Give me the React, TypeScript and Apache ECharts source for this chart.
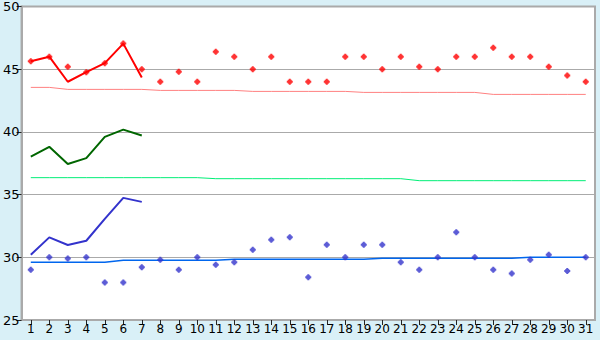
import React, { useEffect, useRef } from "react";
import * as echarts from "echarts";

const days = Array.from({ length: 31 }, (_, i) => String(i + 1));
const yTicks = [25, 30, 35, 40, 45, 50];

const redLine = [45.63, 46.0, 44.0, 44.76, 45.48, 47.04, 44.34];
const greenLine = [38.02, 38.81, 37.44, 37.91, 39.6, 40.18, 39.71];
const blueLine = [30.21, 31.59, 30.98, 31.32, 33.07, 34.74, 34.42];

const redPoints = [
  45.63, 46.0, 45.2, 44.76, 45.48, 47.04, 45.0, 44.0, 44.8, 44.0,
  46.4, 46.0, 45.0, 46.0, 44.0, 44.0, 44.0, 46.0, 46.0, 45.0,
  46.0, 45.2, 45.0, 46.0, 46.0, 46.72, 46.0, 46.0, 45.2, 44.5, 44.0,
];
const bluePoints = [
  29.0, 30.0, 29.9, 30.0, 28.0, 28.0, 29.2, 29.8, 29.0, 30.0,
  29.4, 29.6, 30.6, 31.4, 31.6, 28.4, 31.0, 30.0, 31.0, 31.0,
  29.6, 29.0, 30.0, 32.0, 30.0, 29.0, 28.7, 29.8, 30.2, 28.9, 30.0,
];

const redAvg = [
  43.55, 43.55, 43.39, 43.39, 43.39, 43.39, 43.39, 43.31, 43.31, 43.31,
  43.31, 43.31, 43.23, 43.23, 43.23, 43.23, 43.23, 43.23, 43.15, 43.15,
  43.15, 43.15, 43.15, 43.15, 43.15, 42.99, 42.99, 42.99, 42.99, 42.99, 42.99,
];
const greenAvg = [
  36.35, 36.35, 36.35, 36.35, 36.35, 36.35, 36.35, 36.35, 36.35, 36.35,
  36.27, 36.27, 36.27, 36.27, 36.27, 36.27, 36.27, 36.27, 36.27, 36.27,
  36.27, 36.11, 36.11, 36.11, 36.11, 36.11, 36.11, 36.11, 36.11, 36.11, 36.11,
];
const blueAvg = [
  29.6, 29.6, 29.6, 29.6, 29.6, 29.76, 29.76, 29.76, 29.76, 29.76,
  29.76, 29.84, 29.84, 29.84, 29.84, 29.84, 29.84, 29.84, 29.84, 29.92,
  29.92, 29.92, 29.92, 29.92, 29.92, 29.92, 29.92, 30.0, 30.0, 30.0, 30.0,
];

const marker = "path://M2,0H4V1H5V2H6V4H5V5H4V6H2V5H1V4H0V2H1V1H2Z";

export default function App() {
  const ref = useRef<HTMLDivElement>(null);
  useEffect(() => {
    if (!ref.current) return;
    const chart = echarts.init(ref.current, null, { renderer: "svg" });
    const lineBase = (name: string, data: number[], color: string, width: number, z: number) => ({
      name,
      type: "line",
      data,
      symbol: "none",
      smooth: false,
      z,
      lineStyle: { color, width },
      itemStyle: { color },
    });
    chart.setOption({
      animation: false,
      backgroundColor: "#d9f0f7",
      textStyle: { fontFamily: "DejaVu Sans" },
      grid: {
        left: 20,
        right: 5,
        top: 5,
        bottom: 20,
        show: true,
        backgroundColor: "#ffffff",
        borderColor: "#aaaaaa",
        borderWidth: 2,
      },
      xAxis: {
        type: "category",
        data: days,
        boundaryGap: true,
        axisLine: { show: true, lineStyle: { color: "#aaaaaa", width: 2 } },
        axisTick: { show: true, alignWithLabel: true, length: 5, lineStyle: { color: "#222222" } },
        axisLabel: { color: "#000000", fontSize: 12, margin: 3, interval: 0, fontFamily: "DejaVu Sans" },
        splitLine: { show: false },
      },
      yAxis: {
        type: "value",
        min: yTicks[0],
        max: yTicks[yTicks.length - 1],
        interval: 5,
        axisLine: { show: true, lineStyle: { color: "#aaaaaa", width: 2 } },
        axisTick: { show: true, length: 5, lineStyle: { color: "#222222" } },
        axisLabel: { color: "#000000", fontSize: 13, margin: 2, fontFamily: "DejaVu Sans" },
        splitLine: { show: true, lineStyle: { color: "#aaaaaa", width: 1 } },
      },
      series: [
        lineBase("redAvg", redAvg, "#ff8080", 1, 2),
        lineBase("greenAvg", greenAvg, "#00ee77", 1, 2),
        lineBase("blueAvg", blueAvg, "#0066ee", 1.5, 2),
        lineBase("redLine", redLine, "#ff0000", 2, 3),
        lineBase("greenLine", greenLine, "#006600", 2, 3),
        lineBase("blueLine", blueLine, "#3333cc", 2, 3),
        {
          name: "redPoints",
          type: "scatter",
          data: redPoints,
          symbol: marker,
          symbolSize: 6,
          z: 4,
          itemStyle: { color: "#ff0000" },
        },
        {
          name: "bluePoints",
          type: "scatter",
          data: bluePoints,
          symbol: marker,
          symbolSize: 6,
          z: 4,
          itemStyle: { color: "#3333cc" },
        },
      ],
    });
    return () => chart.dispose();
  }, []);
  return (
    <div
      ref={ref}
      style={{ position: "fixed", left: 0, top: 0, width: 600, height: 340 }}
    />
  );
}
